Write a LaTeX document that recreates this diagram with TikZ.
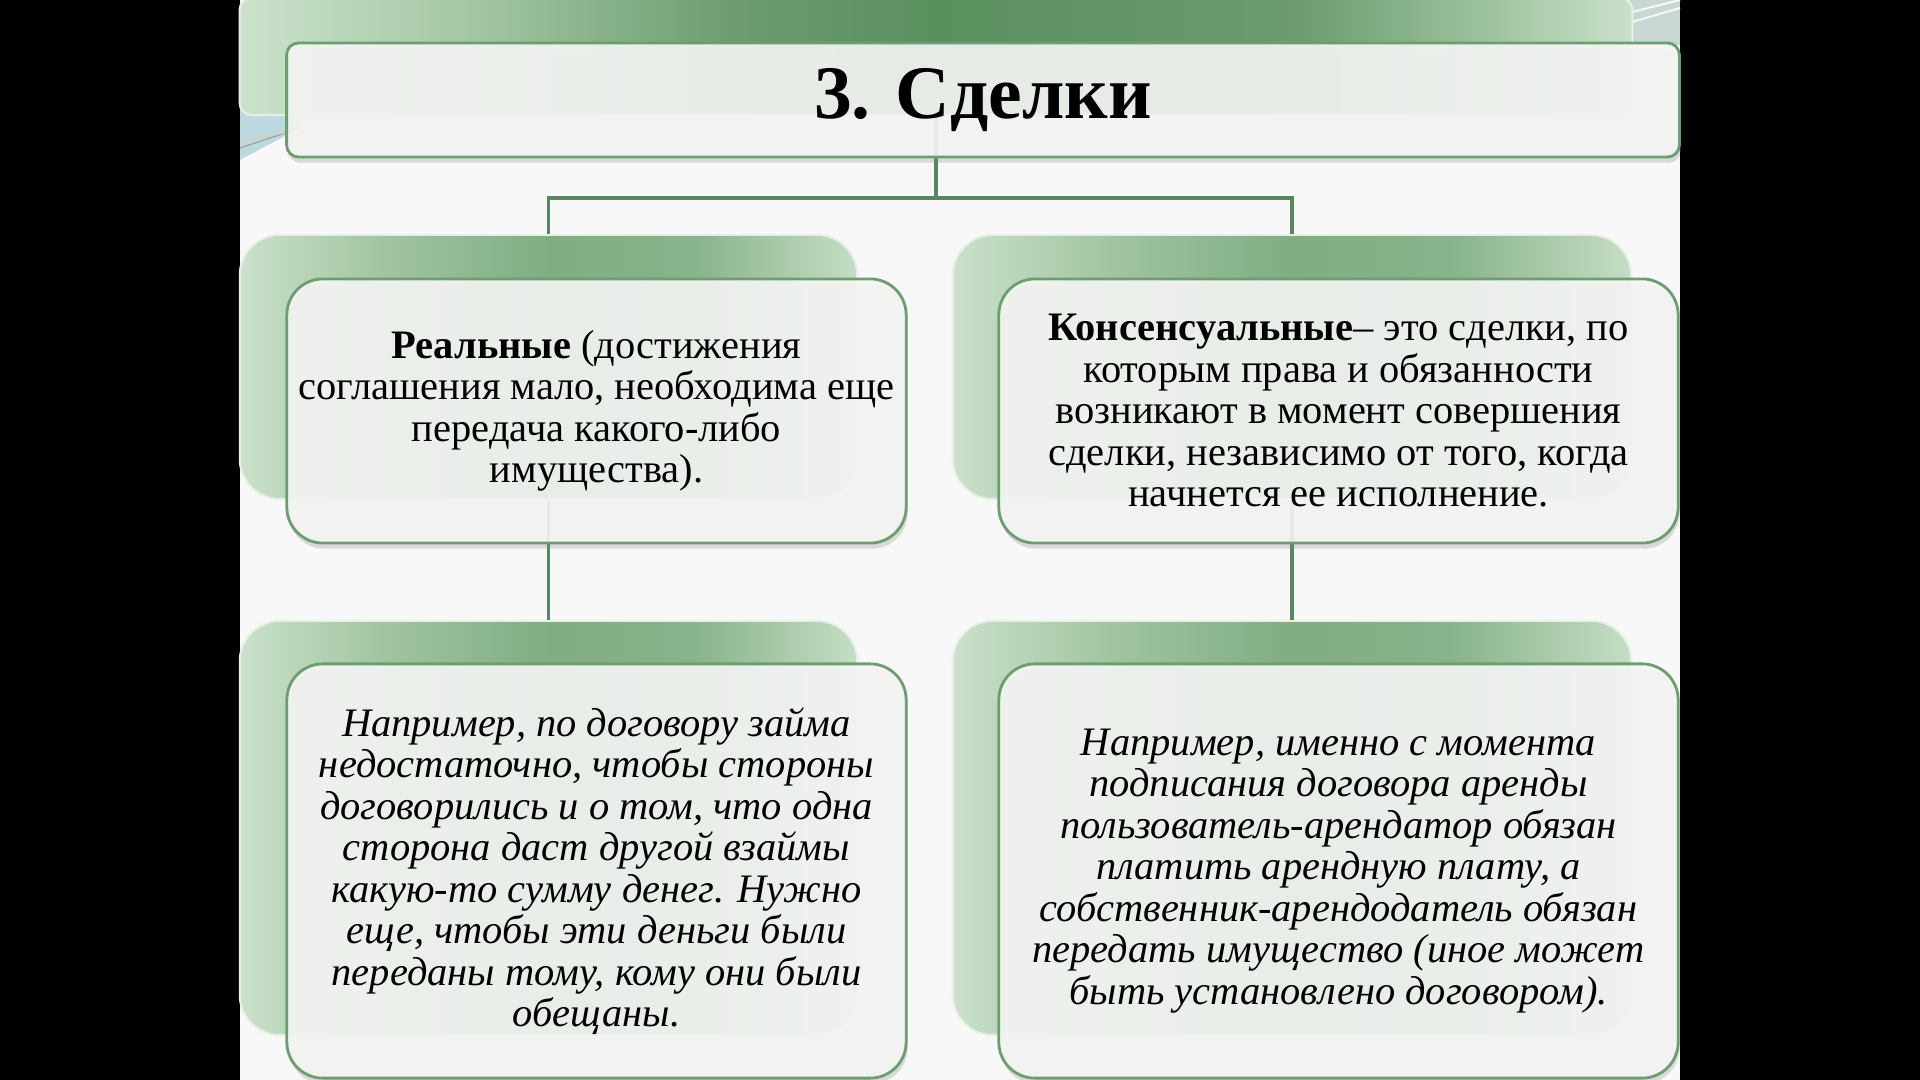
\documentclass[tikz,border=0pt]{standalone}
\usepackage{fontspec}
\setmainfont{Liberation Serif}
\usetikzlibrary{calc}
\usetikzlibrary{shadows}
\definecolor{bordergreen}{RGB}{108,158,112}
\definecolor{linegreen}{RGB}{88,134,94}
\definecolor{palegreen}{RGB}{204,226,204}
\definecolor{softgreen}{RGB}{160,196,160}
\definecolor{midgreen}{RGB}{128,173,130}
\definecolor{darkgreen}{RGB}{90,143,94}
\definecolor{paper}{RGB}{248,248,248}
\definecolor{cardfill}{RGB}{245,246,244}
\definecolor{skyblue}{RGB}{188,217,223}
\definecolor{mistgray}{RGB}{200,214,212}
\pgfdeclarehorizontalshading{titleshade}{100bp}{color(0bp)=(palegreen); color(25bp)=(palegreen);
  color(34bp)=(softgreen); color(43bp)=(darkgreen!85!palegreen); color(50bp)=(darkgreen);
  color(63bp)=(darkgreen!85!palegreen); color(70bp)=(softgreen); color(75bp)=(palegreen!95!softgreen);
  color(100bp)=(palegreen!95!softgreen)}
\pgfdeclarehorizontalshading{boxshade}{100bp}{color(0bp)=(palegreen!95!softgreen); color(25bp)=(palegreen!95!softgreen);
  color(37bp)=(softgreen); color(50bp)=(midgreen); color(62bp)=(midgreen!70!softgreen);
  color(75bp)=(palegreen!85!softgreen); color(100bp)=(palegreen!85!softgreen)}
\tikzset{
  backbox/.style={rectangle,rounded corners=0.4cm,inner sep=0pt,
    draw=white!50!palegreen,line width=0.6pt,shading=boxshade,shading angle=0},
  frontbox/.style={rectangle,rounded corners=0.36cm,inner sep=0pt,align=center,
    draw=bordergreen,line width=0.8pt,fill=cardfill,fill opacity=0.9,text opacity=1,
    drop shadow={shadow xshift=0.4pt,shadow yshift=-1.6pt,opacity=0.25},
    font=\fontsize{11.5}{11.8}\selectfont},
  link/.style={draw=linegreen,line width=0.9pt},
}

\begin{document}
\begin{tikzpicture}[x=0.01cm,y=-0.01cm]
  % 背景
  \useasboundingbox (0,0) rectangle (1920,1080);
  \fill[black] (0,0) rectangle (1920,1080);
  \fill[paper] (240,0) rectangle (1680,1080);
  \fill[skyblue] (240,110) -- (300,110) -- (300,128) -- (240,160) -- cycle;
  \draw[black!40,line width=0.3pt] (240,148) -- (300,128);
  \draw[brown!40,line width=0.3pt] (240,141) -- (300,130);
  \fill[mistgray] (1625,0) rectangle (1680,45);
  \draw[white!80!mistgray,line width=0.6pt] (1632,12) -- (1680,0);
  \draw[white!80!mistgray,line width=0.6pt] (1632,22) -- (1680,8);

  % 标题
  \node[backbox,rounded corners=0.12cm,minimum width=13.92cm,minimum height=1.17cm,
    shading=titleshade] (tback) at (936,56.5) {};

  % 后层方框
  \node[backbox,minimum width=6.17cm,minimum height=2.64cm] (lback) at (548.5,367) {};
  \node[backbox,minimum width=6.78cm,minimum height=2.64cm] (rback) at (1292,367) {};
  \node[backbox,minimum width=6.17cm,minimum height=4.14cm] (lbback) at (548.5,828) {};
  \node[backbox,minimum width=6.78cm,minimum height=4.14cm] (rbback) at (1292,828) {};

  % 连线
  \draw[link] (tback.south) -- ++(0,82) -| (lback.north);
  \draw[link] (tback.south) -- ++(0,82) -| (rback.north);
  \draw[link] (lback.south) -- (lbback.north);
  \draw[link] (rback.south) -- (rbback.north);

  % 前层方框
  \node[frontbox,rounded corners=0.12cm,minimum width=13.92cm,minimum height=1.14cm,
    font=\fontsize{21.5}{24}\selectfont\bfseries] (tfront) at (983,100) {3. Сделки};
  \node[frontbox,minimum width=6.19cm,minimum height=2.64cm] (lfront) at (596.5,411)
    {\textbf{Реальные} (достижения\\соглашения мало, необходима еще\\передача какого-либо\\имущества).};
  \node[frontbox,minimum width=6.79cm,minimum height=2.64cm] (rfront) at (1338.5,411)
    {\textbf{Консенсуальные}– это сделки, по\\которым права и обязанности\\возникают в момент совершения\\сделки, независимо от того, когда\\начнется ее исполнение.};
  \node[frontbox,minimum width=6.19cm,minimum height=4.14cm,font=\fontsize{11.5}{11.8}\selectfont\itshape]
    (lbfront) at (596.5,871)
    {Например, по договору займа\\недостаточно, чтобы стороны\\договорились и о том, что одна\\сторона даст другой взаймы\\какую-то сумму денег. Нужно\\еще, чтобы эти деньги были\\переданы тому, кому они были\\обещаны.};
  \node[frontbox,minimum width=6.79cm,minimum height=4.14cm,font=\fontsize{11.5}{11.8}\selectfont\itshape]
    (rbfront) at (1338.5,871)
    {Например, именно с момента\\подписания договора аренды\\пользователь-арендатор обязан\\платить арендную плату, а\\собственник-арендодатель обязан\\передать имущество (иное может\\быть установлено договором).};
\end{tikzpicture}
\end{document}
